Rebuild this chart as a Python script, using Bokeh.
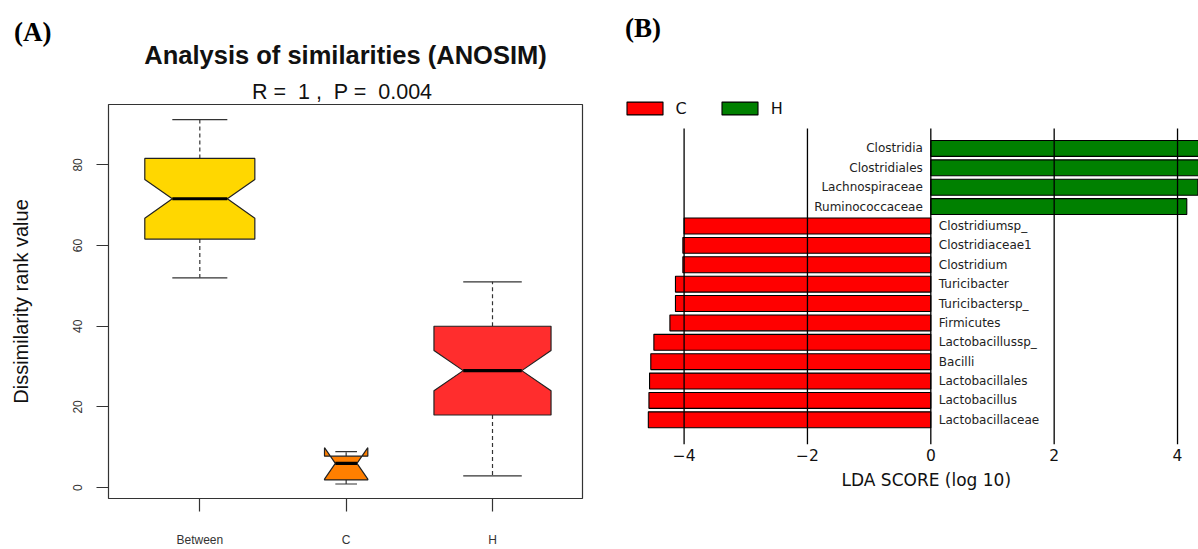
import numpy as np
from bokeh.plotting import figure
from bokeh.models import FixedTicker, Label, Legend, LegendItem, ColumnDataSource, Range1d
from bokeh.embed import file_html
from bokeh.resources import INLINE
from bokeh.core.properties import value

# ---------------- Panel A data: ANOSIM notched boxplot ----------------
groups = ["Between", "C", "H"]
whisker_low = [52.0, 0.9, 2.9]
q1 = [61.6, 1.9, 18.0]
median = [71.6, 6.0, 29.0]
q3 = [81.6, 7.8, 40.0]
whisker_high = [91.2, 8.9, 51.0]
notch_low = [66.8, 2.1, 24.0]
notch_high = [76.4, 9.9, 34.0]
y_ticks_A = [0, 20, 40, 60, 80]
anosim_R = "1"
anosim_P = "0.004"

# ---------------- Panel B data: LEfSe LDA scores ----------------
taxa = ["Lactobacillaceae", "Lactobacillus", "Lactobacillales", "Bacilli",
        "Lactobacillussp_", "Firmicutes", "Turicibactersp_", "Turicibacter",
        "Clostridium", "Clostridiaceae1", "Clostridiumsp_",
        "Ruminococcaceae", "Lachnospiraceae", "Clostridiales", "Clostridia"]
lda_score = [-4.58, -4.57, -4.56, -4.54, -4.49, -4.23, -4.14, -4.14,
             -4.02, -4.02, -4.00, 4.15, 4.33, 4.42, 4.46]
enriched_in = ["C"] * 11 + ["H"] * 4
x_ticks_B = [-4, -2, 0, 2, 4]

# ---------------- styles ----------------
SANS = "Liberation Sans"
SERIF = "Liberation Serif"
MPL = "DejaVu Sans"
BOX_COLORS = ["#FFD700", "#FF7F00", "#FF2D2D"]
BOX_HALF = [0.376, 0.148, 0.40]
BAR_COLORS = {"C": "#FF0000", "H": "#008000"}
GREY = "#333333"
NB = "\u00a0"

# ================= Panel A =================
A_W, A_H = 598, 549
A_L, A_R, A_T, A_B = 108, 16, 104, 47
XA0, XA1 = 0.376, 3.615
YA0, YA1 = -2.70, 94.97
pxA_x = (A_W - A_L - A_R) / (XA1 - XA0)
pxA_y = (A_H - A_T - A_B) / (YA1 - YA0)

pA = figure(width=A_W, height=A_H, x_range=Range1d(XA0, XA1), y_range=Range1d(YA0, YA1),
            output_backend="svg", toolbar_location=None, title_location=None,
            min_border_left=A_L, min_border_right=A_R, min_border_top=A_T, min_border_bottom=A_B)
pA.grid.visible = False
pA.outline_line_color = GREY
pA.outline_line_width = 1.2
pA.styles = {"position": "absolute", "left": "0px", "top": "0px"}

xpos = np.arange(1, len(groups) + 1)
xs, ys = [], []
for i, x in enumerate(xpos):
    w = BOX_HALF[i]
    wn = w / 2
    xs.append([x - w, x - w, x - wn, x - w, x - w, x + w, x + w, x + wn, x + w, x + w])
    ys.append([q1[i], notch_low[i], median[i], notch_high[i], q3[i],
               q3[i], notch_high[i], median[i], notch_low[i], q1[i]])

half = np.array(BOX_HALF)
pA.segment(x0=xpos, y0=q3, x1=xpos, y1=whisker_high, line_color=GREY,
           line_width=1.2, line_dash="4 3")
pA.segment(x0=xpos, y0=q1, x1=xpos, y1=whisker_low, line_color=GREY,
           line_width=1.2, line_dash="4 3")
pA.segment(x0=xpos - half / 2, y0=whisker_high, x1=xpos + half / 2, y1=whisker_high,
           line_color=GREY, line_width=1.2)
pA.segment(x0=xpos - half / 2, y0=whisker_low, x1=xpos + half / 2, y1=whisker_low,
           line_color=GREY, line_width=1.2)
pA.patches(xs, ys, fill_color=BOX_COLORS, line_color="#222222", line_width=1.2)
pA.segment(x0=xpos - half / 2, y0=median, x1=xpos + half / 2, y1=median,
           line_color="black", line_width=3.2)

pA.xaxis.ticker = FixedTicker(ticks=[int(x) for x in xpos])
pA.xaxis.major_label_overrides = {int(x): g for x, g in zip(xpos, groups)}
pA.xaxis.axis_line_color = None
pA.xaxis.major_tick_out = 13
pA.xaxis.major_tick_in = 0
pA.xaxis.minor_tick_out = 0
pA.xaxis.minor_tick_in = 0
pA.xaxis.major_tick_line_color = GREY
pA.xaxis.major_tick_line_width = 1.2
pA.xaxis.major_label_standoff = 21
pA.xaxis.major_label_text_font = SANS
pA.xaxis.major_label_text_font_size = "12px"
pA.xaxis.major_label_text_color = GREY

pA.yaxis.ticker = FixedTicker(ticks=y_ticks_A)
pA.yaxis.major_label_orientation = "vertical"
pA.yaxis.axis_line_color = None
pA.yaxis.major_tick_out = 12
pA.yaxis.major_tick_in = 0
pA.yaxis.minor_tick_out = 0
pA.yaxis.minor_tick_in = 0
pA.yaxis.major_tick_line_color = GREY
pA.yaxis.major_tick_line_width = 1.2
pA.yaxis.major_label_standoff = 14
pA.yaxis.major_label_text_font = SANS
pA.yaxis.major_label_text_font_size = "12px"
pA.yaxis.major_label_text_color = GREY
pA.yaxis.axis_label = "Dissimilarity rank value"
pA.yaxis.axis_label_text_font = SANS
pA.yaxis.axis_label_text_font_size = "20px"
pA.yaxis.axis_label_text_font_style = "normal"
pA.yaxis.axis_label_text_color = "#111111"
pA.yaxis.axis_label_standoff = 39

# texts above the frame (side panel, so they are not clipped to the frame)
pA.add_layout(Label(x=(XA0 + XA1) / 2, y=YA1 + (104 - 54.5) / pxA_y,
                    text="Analysis of similarities (ANOSIM)", text_align="center",
                    text_baseline="middle", text_font=SANS, text_font_size="25.5px",
                    text_font_style="bold", text_color="#111111"), "above")
pA.add_layout(Label(x=1 + (341.7 - 199.3) / pxA_x, y=YA1 + (104 - 91.5) / pxA_y,
                    text=f"R ={NB} {anosim_R} ,{NB} P ={NB} {anosim_P}", text_align="center",
                    text_baseline="middle", text_font=SANS, text_font_size="21.5px",
                    text_color="#111111"), "above")
pA.add_layout(Label(x=1 + (32.2 - 199.3) / pxA_x, y=YA1 + (104 - 30.5) / pxA_y, text="(A)",
                    text_align="center", text_baseline="middle", text_font=SERIF,
                    text_font_size="27px", text_font_style="bold", text_color="black"), "above")

# ================= Panel B =================
B_W, B_H = 600, 549
B_L, B_R, B_T, B_B = 13, 0, 88, 105
XB0, XB1 = -5.177, 4.340
BAR_LO, BAR_HI = -1.274, 15.03          # extent of the LEfSe axes (tick lines)
YB0, YB1 = BAR_LO, BAR_HI + 40 / 19.38
pxB_x = (B_W - B_L - B_R) / (XB1 - XB0)
pxB_y = (B_H - B_T - B_B) / (YB1 - YB0)

pB = figure(width=B_W, height=B_H, x_range=Range1d(XB0, XB1), y_range=Range1d(YB0, YB1),
            output_backend="svg", toolbar_location=None, y_axis_location=None,
            title_location=None,
            min_border_left=B_L, min_border_right=B_R, min_border_top=B_T, min_border_bottom=B_B)
pB.outline_line_color = None
pB.grid.visible = False
pB.styles = {"position": "absolute", "left": "598px", "top": "0px"}

ypos = np.arange(len(taxa))
renderers = {}
for cls in ["C", "H"]:
    idx = [i for i, c in enumerate(enriched_in) if c == cls]
    src = ColumnDataSource(dict(y=ypos[idx], score=[lda_score[i] for i in idx],
                                name=[taxa[i] for i in idx]))
    renderers[cls] = pB.hbar(y="y", left=0, right="score", height=0.82, source=src,
                             fill_color=BAR_COLORS[cls], line_color="black", line_width=1.1)
    right_side = cls == "C"
    pB.text(x=0, y="y", text="name", source=src, x_offset=8 if right_side else -8,
            text_align="left" if right_side else "right",
            text_baseline="middle", text_font=value(MPL), text_font_size="12px",
            text_color="#222222")

# vertical tick lines spanning the axes height, drawn over the bars
pB.segment(x0=x_ticks_B, y0=BAR_LO, x1=x_ticks_B, y1=BAR_HI, line_color="black",
           line_width=1.3)

pB.xaxis.ticker = FixedTicker(ticks=x_ticks_B)
pB.xaxis.major_label_overrides = {t: (f"\u2212{abs(t)}" if t < 0 else str(t)) for t in x_ticks_B}
pB.xaxis.axis_line_color = None
pB.xaxis.major_tick_line_color = None
pB.xaxis.major_tick_out = 0
pB.xaxis.major_tick_in = 0
pB.xaxis.minor_tick_line_color = None
pB.xaxis.major_label_standoff = 4
pB.xaxis.major_label_text_font = MPL
pB.xaxis.major_label_text_font_size = "15.5px"
pB.xaxis.major_label_text_color = "#111111"

legend = Legend(items=[LegendItem(label="C", renderers=[renderers["C"]]),
                       LegendItem(label="H", renderers=[renderers["H"]])],
                orientation="horizontal", location=(10.5, 444 - 117.5),
                glyph_width=45, glyph_height=16, label_standoff=9, spacing=30,
                padding=0, margin=0, border_line_color=None, background_fill_alpha=0,
                label_text_font=MPL, label_text_font_size="16px", label_text_color="#111111",
                label_height=16, label_width=11)
pB.add_layout(legend)

pB.add_layout(Label(x=(642.5 - 930.3) / 61.68, y=YB1 + (B_T - 27.5) / pxB_y, text="(B)",
                    text_align="center", text_baseline="middle", text_font=SERIF,
                    text_font_size="27px", text_font_style="bold", text_color="black"), "above")
pB.add_layout(Label(x=(925.8 - 930.3) / 61.68, y=YB0 - (479.5 - 444) / pxB_y,
                    text="LDA SCORE (log 10)", text_align="center", text_baseline="middle",
                    text_font=MPL, text_font_size="17px", text_color="#111111"), "below")

open("out.html", "w").write(file_html([pA, pB], INLINE))
